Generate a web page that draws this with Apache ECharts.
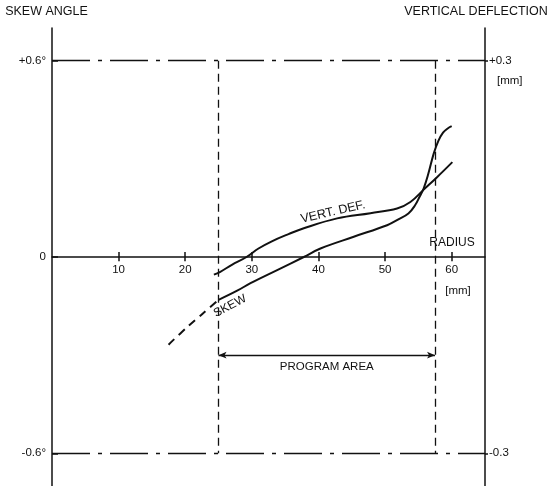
<!DOCTYPE html>
<html>
<head>
<meta charset="utf-8">
<script src="https://cdn.jsdelivr.net/npm/echarts@6/dist/echarts.min.js"></script>
<style>
  html, body { margin: 0; padding: 0; background: #fff; }
  #chart { width: 551px; height: 486px; }
</style>
</head>
<body>
<div id="chart"></div>
<script>
  // radius [mm] vs skew angle [deg] (left axis)
  const skewRadius = [25, 27.8, 29.8, 33.8, 37.8, 40.3, 45.3, 50.3, 52, 53.5, 54.5, 55.2, 55.8, 56.5, 57.3, 58, 58.7, 59.4, 60]
  const skewAngle = [-0.131, -0.103, -0.08, -0.04, 0, 0.026, 0.062, 0.097, 0.115, 0.133, 0.158, 0.185, 0.21, 0.255, 0.316, 0.355, 0.38, 0.393, 0.4]
  // extrapolated part of skew curve (dashed)
  const skewDashRadius = [17.5, 19.5, 21.5, 23.3, 25]
  const skewDashAngle = [-0.268, -0.229, -0.193, -0.161, -0.131]
  // radius [mm] vs vertical deflection [mm] (right axis)
  const vertRadius = [24.3, 25.2, 27, 29.2, 31, 33, 35.5, 37.8, 42.8, 47.8, 51.8, 53.8, 55.8, 57.8, 60.1]
  const vertDefl = [-0.027, -0.023, -0.012, 0, 0.013, 0.024, 0.035, 0.044, 0.059, 0.067, 0.074, 0.084, 0.103, 0.122, 0.145]

  const radiusTicks = [10, 20, 30, 40, 50, 60]
  const angleTicks = [-0.6, 0, 0.6]
  const deflTicks = [-0.3, 0.3]
  const programArea = [25, 57.5]
  const programArrowLevel = -0.3

  const ink = '#111'
  const font = "'Liberation Sans', Arial, sans-serif"

  const dom = echarts.init(document.getElementById('chart'))

  // lower half of the radius ticks plus their labels
  // (the axis sits on zero and draws the upper half)
  const tickTails = radiusTicks.map(t => [{
    coord: [t, 0],
    lineStyle: { type: 'solid', width: 1.5, color: ink },
    label: { show: true, position: 'end', formatter: String(t), distance: 3, color: ink, fontSize: 11.5, fontFamily: font }
  }, {
    coord: [t, -0.013]
  }])

  let option = {
    animation: false,
    grid: { left: 52, right: 66, top: 28, bottom: 0, containLabel: false, outerBoundsMode: 'none' },
    xAxis: {
      type: 'value',
      min: 0,
      max: 65,
      splitLine: { show: false },
      axisLine: { onZero: true, lineStyle: { color: ink, width: 1.5 } },
      axisTick: { inside: true, length: 5, customValues: radiusTicks, lineStyle: { color: ink, width: 1.5 } },
      axisLabel: { show: false }
    },
    yAxis: [{
      type: 'value',
      position: 'left',
      min: -0.7,
      max: 0.7,
      name: 'SKEW ANGLE',
      nameLocation: 'end',
      nameGap: 10,
      nameTextStyle: { color: ink, fontSize: 12.5, fontFamily: font, padding: [0, 11, 0, 0] },
      splitLine: { show: false },
      axisLine: { show: true, onZero: false, lineStyle: { color: ink, width: 1.5 } },
      axisTick: { inside: true, length: 6, customValues: angleTicks, lineStyle: { color: ink, width: 1.5 } },
      axisLabel: {
        customValues: angleTicks,
        color: ink,
        fontSize: 11.5,
        fontFamily: font,
        margin: 6,
        formatter: v => v > 0 ? '+' + v + '°' : (v < 0 ? v + '°' : '0')
      }
    }, {
      type: 'value',
      position: 'right',
      min: -0.35,
      max: 0.35,
      name: 'VERTICAL DEFLECTION',
      nameLocation: 'end',
      nameGap: 10,
      nameTextStyle: { color: ink, fontSize: 12.5, fontFamily: font, padding: [0, 18, 0, 0] },
      splitLine: { show: false },
      axisLine: { show: true, onZero: false, lineStyle: { color: ink, width: 1.5 } },
      axisTick: { inside: false, length: 3, customValues: deflTicks, lineStyle: { color: ink, width: 1.5 } },
      axisLabel: {
        customValues: deflTicks,
        color: ink,
        fontSize: 11.5,
        fontFamily: font,
        margin: 4,
        formatter: v => v > 0 ? '+' + v : '' + v
      }
    }],
    series: [{
      name: 'skew',
      type: 'line',
      yAxisIndex: 0,
      data: skewRadius.map((r, i) => [r, skewAngle[i]]),
      smooth: 0.4,
      symbol: 'none',
      lineStyle: { color: ink, width: 2 },
      markLine: {
        silent: true,
        symbol: 'none',
        label: { show: false },
        data: [
          [{ coord: [0, angleTicks[2]], lineStyle: { type: [38, 8, 4, 8], width: 1.3, color: ink } }, { coord: [65, angleTicks[2]] }],
          [{ coord: [0, angleTicks[0]], lineStyle: { type: [38, 8, 4, 8], width: 1.3, color: ink } }, { coord: [65, angleTicks[0]] }],
          [{ coord: [programArea[0], angleTicks[2]], lineStyle: { type: [8, 5], width: 1.3, color: ink } }, { coord: [programArea[0], angleTicks[0]] }],
          [{ coord: [programArea[1], angleTicks[2]], lineStyle: { type: [8, 5], width: 1.3, color: ink } }, { coord: [programArea[1], angleTicks[0]] }],
          [{
            coord: [programArea[0], programArrowLevel],
            symbol: 'arrow',
            symbolSize: [5, 8],
            lineStyle: { type: 'solid', width: 1.3, color: ink },
            label: {
              show: true,
              formatter: 'PROGRAM AREA',
              position: 'insideMiddleBottom',
              distance: 6,
              color: ink,
              fontSize: 11.5,
              fontFamily: font
            }
          }, {
            coord: [programArea[1], programArrowLevel],
            symbol: 'arrow',
            symbolSize: [5, 8]
          }]
        ].concat(tickTails)
      }
    }, {
      name: 'skew (extrapolated)',
      type: 'line',
      yAxisIndex: 0,
      data: skewDashRadius.map((r, i) => [r, skewDashAngle[i]]),
      smooth: 0.4,
      symbol: 'none',
      lineStyle: { color: ink, width: 2, type: [8, 6] }
    }, {
      name: 'vert. def.',
      type: 'line',
      yAxisIndex: 1,
      data: vertRadius.map((r, i) => [r, vertDefl[i]]),
      smooth: 0.4,
      symbol: 'none',
      lineStyle: { color: ink, width: 2 }
    }],
    graphic: [
      { type: 'text', left: 497, top: 75, style: { text: '[mm]', fill: ink, font: '11.5px ' + font } },
      { type: 'text', x: 458, y: 291, style: { text: '[mm]', fill: ink, font: '11.5px ' + font, align: 'center', verticalAlign: 'middle' } },
      { type: 'text', x: 452, y: 243, style: { text: 'RADIUS', fill: ink, font: '12px ' + font, align: 'center', verticalAlign: 'middle' } },
      { type: 'text', x: 333, y: 212, rotation: 13 * Math.PI / 180, style: { text: 'VERT. DEF.', fill: ink, font: '12.5px ' + font, align: 'center', verticalAlign: 'middle' } },
      { type: 'text', x: 230, y: 306, rotation: 28 * Math.PI / 180, style: { text: 'SKEW', fill: ink, font: '12px ' + font, align: 'center', verticalAlign: 'middle' } }
    ]
  }

  dom.setOption(option)
</script>
</body>
</html>
